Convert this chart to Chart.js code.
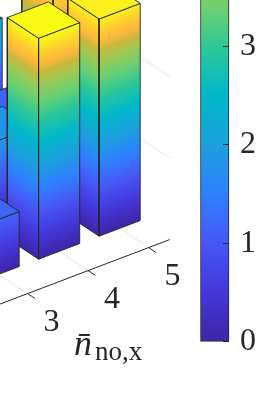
<!DOCTYPE html>
<html>
<head>
<meta charset="utf-8">
<script src="https://cdn.jsdelivr.net/npm/chart.js@4"></script>
<style>
  html, body { margin: 0; padding: 0; background: #fff; overflow: hidden; }
  #barras { position: absolute; left: 0; top: 0; }
  #colorbar { position: absolute; left: 195px; top: 0; }
</style>
</head>
<body>
<canvas id="barras" width="273" height="420"></canvas>
<canvas id="colorbar" width="78" height="420"></canvas>
<script>
'use strict';

// Barras visiveis (o resto esta fora do recorte)
const barNx = [5, 5, 5, 4, 5, 4, 3];
const barNy = [2, 3, 4, 4, 5, 5, 5];
const barValues = [2.36, 1.17, 4.72, 1.83, 4.62, 4.70, 1.17];

const nxTicks = [3, 4, 5];
const nxTickLabels = ['3', '4', '5'];
const wallZ = [1.734, 3.468];
const cbTicks = [0, 1, 2, 3];
const cbTop = 3.47;

// Colormap: valor -> cor
const colorValues = [0, 0.5, 1, 1.5, 2, 2.5, 3, 3.4, 3.75, 3.95, 4.15, 4.4, 4.7];
const colorStops = ['#3e26a8', '#4536d8', '#4756f5', '#2f80ff', '#1ca0dc', '#00b8c8', '#2fc896',
    '#6fd070', '#a4c850', '#c8b83c', '#ffb83c', '#fcd22c', '#f9fb15'];
const cMax = 4.7;

// Projecao obliqua (nx, ny, z) -> coordenadas do grafico
const proj = { u0: -428.5, v0: 180.5, nxU: 60.5, nxV: -23, nyU: 46, nyV: 30.5, zV: 47 };
const halfWidth = 0.34;
const axisNy = 5.97;
const axisNxEnd = 5.35;
const axisNxStart = 2.5;
const backNy = 0;

function project(nx, ny, z) {
    return {
        x: proj.u0 + proj.nxU * nx + proj.nyU * ny,
        y: proj.v0 + proj.nxV * nx + proj.nyV * ny - proj.zV * z,
    };
}

// Gradiente de uma face: isolinhas paralelas a aresta da base
function faceGradient(context, a, b) {
    const chart = context.chart;
    if (!chart.chartArea) return colorStops[0];
    const sx = chart.scales.x, sy = chart.scales.y;
    const ax = sx.getPixelForValue(a.x), ay = sy.getPixelForValue(a.y);
    const bx = sx.getPixelForValue(b.x), by = sy.getPixelForValue(b.y);
    const dx = bx - ax, dy = by - ay;
    const len = Math.hypot(dx, dy);
    const nx = dy / len, ny = -dx / len;
    const zPixels = sy.getPixelForValue(project(0, 0, 0).y) - sy.getPixelForValue(project(0, 0, cMax).y);
    const reach = -zPixels * ny;
    const grad = chart.ctx.createLinearGradient(ax, ay, ax + nx * reach, ay + ny * reach);
    colorValues.forEach((v, i) => grad.addColorStop(v / cMax, colorStops[i]));
    return grad;
}

function colorAt(v) {
    let i = 0;
    while (i < colorValues.length - 2 && colorValues[i + 1] < v) i++;
    const t = Math.min(1, (v - colorValues[i]) / (colorValues[i + 1] - colorValues[i]));
    const hex = (c) => [1, 3, 5].map((k) => parseInt(c.substr(k, 2), 16));
    const p = hex(colorStops[i]), q = hex(colorStops[i + 1]);
    return 'rgb(' + p.map((c, k) => Math.round(c + (q[k] - c) * t)).join(',') + ')';
}

function lineSet(points, color, width) {
    return {
        data: points,
        showLine: true,
        fill: false,
        borderColor: color,
        borderWidth: width,
        pointRadius: 0,
        tension: 0,
    };
}

function faceSet(points, background) {
    return {
        data: points.concat([points[0]]),
        showLine: true,
        fill: 'shape',
        backgroundColor: background,
        borderColor: '#262626',
        borderWidth: 0.9,
        borderJoinStyle: 'round',
        pointRadius: 0,
        tension: 0,
    };
}

const sets = [];

// Grades do chao e da parede
nxTicks.forEach((nx) => {
    sets.push(lineSet([project(nx, backNy, 0), project(nx, axisNy, 0)], '#e4e4e4', 1));
});
wallZ.forEach((z) => {
    sets.push(lineSet([project(axisNxEnd, backNy, z), project(axisNxEnd, axisNy, z)], '#e4e4e4', 1));
});

// Eixo nx
sets.push(lineSet([project(axisNxStart, axisNy, 0), project(axisNxEnd, axisNy, 0)], '#262626', 1));
nxTicks.forEach((nx) => {
    sets.push(lineSet([project(nx, axisNy, 0), project(nx, axisNy + 0.16, 0)], '#262626', 1));
});

// Barras, de tras para a frente
barValues.forEach((h, i) => {
    const x0 = barNx[i] - halfWidth, x1 = barNx[i] + halfWidth;
    const y0 = barNy[i] - halfWidth, y1 = barNy[i] + halfWidth;
    const frontBase = project(x0, y1, 0), rightBase = project(x1, y1, 0), leftBase = project(x0, y0, 0);
    sets.push(faceSet(
        [leftBase, frontBase, project(x0, y1, h), project(x0, y0, h)],
        (ctx) => faceGradient(ctx, leftBase, frontBase),
    ));
    sets.push(faceSet(
        [frontBase, rightBase, project(x1, y1, h), project(x0, y1, h)],
        (ctx) => faceGradient(ctx, frontBase, rightBase),
    ));
    sets.push(faceSet(
        [project(x0, y0, h), project(x1, y0, h), project(x1, y1, h), project(x0, y1, h)],
        colorAt(h),
    ));
});

// Chart.js desenha primeiro o maior "order"
sets.forEach((s, i) => { s.order = sets.length - i; });

// Rotulos do eixo nx e titulo
const rotulos = {
    id: 'rotulos',
    afterDraw(chart) {
        const c = chart.ctx;
        const sx = chart.scales.x, sy = chart.scales.y;
        c.save();
        c.fillStyle = '#262626';
        c.textAlign = 'center';
        c.textBaseline = 'middle';
        c.font = '32px "Liberation Serif"';
        nxTicks.forEach((nx, i) => {
            const p = project(nx, axisNy, 0);
            c.fillText(nxTickLabels[i], sx.getPixelForValue(p.x) + 24, sy.getPixelForValue(p.y) + 29);
        });
        c.textAlign = 'left';
        c.textBaseline = 'alphabetic';
        c.font = 'italic 36px "Liberation Serif"';
        c.fillText('n\u0304', 74, 355);
        c.font = '27px "Liberation Serif"';
        c.fillText('no,x', 95, 360);
        c.restore();
    },
};

new Chart(document.getElementById('barras'), {
    type: 'scatter',
    data: { datasets: sets },
    options: {
        responsive: false,
        animation: false,
        plugins: { legend: { display: false }, tooltip: { enabled: false } },
        layout: { padding: 0 },
        scales: {
            x: { type: 'linear', display: false, min: 0, max: 273 },
            y: { type: 'linear', display: false, min: 0, max: 420, reverse: true },
        },
    },
    plugins: [rotulos],
});

// Barra de cores
new Chart(document.getElementById('colorbar'), {
    type: 'bar',
    data: {
        labels: [''],
        datasets: [{
            data: [[0, cbTop + 0.05]],
            barPercentage: 1,
            categoryPercentage: 1,
            borderColor: '#262626',
            borderWidth: 1,
            borderSkipped: 'top',
            clip: false,
            backgroundColor(context) {
                const chart = context.chart;
                if (!chart.chartArea) return colorStops[0];
                const s = chart.scales.y;
                const grad = chart.ctx.createLinearGradient(0, s.getPixelForValue(0), 0, s.getPixelForValue(cMax));
                colorValues.forEach((v, i) => grad.addColorStop(v / cMax, colorStops[i]));
                return grad;
            },
        }],
    },
    options: {
        responsive: false,
        animation: false,
        plugins: { legend: { display: false }, tooltip: { enabled: false } },
        layout: { padding: { left: 5.5, top: 0, right: 0, bottom: 78.2 } },
        scales: {
            x: { display: false },
            y: {
                position: 'right',
                min: 0,
                max: cbTop,
                afterFit(scale) {
                    scale.width = 44;
                    scale.paddingTop = 0;
                    scale.paddingBottom = 0;
                },
                afterBuildTicks(scale) { scale.ticks = cbTicks.map((v) => ({ value: v })); },
                border: { display: false },
                grid: { drawOnChartArea: false, tickLength: -6, tickColor: '#262626', z: 1 },
                ticks: {
                    padding: 17,
                    color: '#262626',
                    font: { family: '"Liberation Serif"', size: 32 },
                },
            },
        },
    },
});
</script>
</body>
</html>
